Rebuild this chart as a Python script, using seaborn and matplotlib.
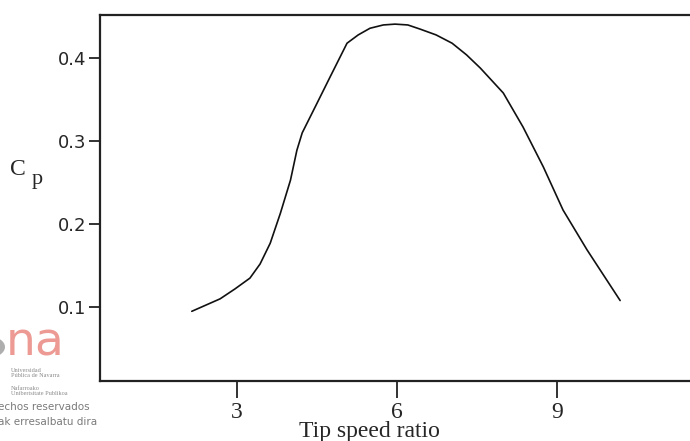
import matplotlib
matplotlib.use("Agg")
import matplotlib.pyplot as plt
from matplotlib.patches import Circle
import pandas as pd
import seaborn as sns

# Power coefficient curve
tsr = [2.15, 2.68, 2.96, 3.24, 3.43, 3.62, 3.81, 4.00, 4.12, 4.22, 4.50, 4.74,
       5.06, 5.27, 5.49, 5.74, 5.96, 6.20, 6.43, 6.73, 7.03, 7.30, 7.56, 7.99,
       8.36, 8.74, 9.11, 9.56, 10.18]
cp = [0.095, 0.110, 0.122, 0.135, 0.152, 0.177, 0.213, 0.253, 0.289, 0.310, 0.346, 0.377,
      0.418, 0.428, 0.436, 0.440, 0.441, 0.440, 0.435, 0.428, 0.418, 0.404, 0.388, 0.358,
      0.317, 0.269, 0.217, 0.169, 0.108]
x_ticks = [3, 6, 9]
y_ticks = [0.1, 0.2, 0.3, 0.4]

df = pd.DataFrame({"tsr": tsr, "cp": cp})

sns.set_style("white")
SERIF = ["Liberation Serif", "DejaVu Serif"]

fig = plt.figure(figsize=(6.9, 4.41), dpi=100)
ax = fig.add_axes([0.145, 0.136, 0.855, 0.830])

sns.lineplot(data=df, x="tsr", y="cp", color="#111111", linewidth=1.2, ax=ax)

ax.set_xlim(0.43, 11.49)
ax.set_ylim(0.011, 0.452)
ax.set_xticks(x_ticks)
ax.set_yticks(y_ticks)
ax.set_xticklabels([str(t) for t in x_ticks], family=SERIF, fontsize=17)
ax.set_yticklabels([f"{t:.1f}" for t in y_ticks], family="DejaVu Sans", fontsize=13)
ax.tick_params(axis="x", bottom=True, direction="out", length=12, width=1.3, pad=3,
               color="#222222")
ax.tick_params(axis="y", left=True, direction="out", length=8, width=1.3, pad=2,
               color="#222222")
ax.set_xlabel("")
ax.set_ylabel("")

for side in ["left", "top", "bottom"]:
    ax.spines[side].set_color("#222222")
    ax.spines[side].set_linewidth(1.6)
ax.spines["right"].set_visible(False)

# axis labels
fig.text(0.535, 1 - 437 / 441, "Tip speed ratio", family=SERIF, fontsize=17,
         ha="center", va="baseline")
fig.text(0.015, 0.615, "C", family=SERIF, fontsize=17, ha="left", va="center")
fig.text(0.046, 0.592, "p", family=SERIF, fontsize=16, ha="left", va="center")

# watermark bottom-left
fig.patches.append(Circle((-12 / 690, 1 - 347 / 441), 17 / 690, transform=fig.transFigure,
                          facecolor="#9a9a9a", edgecolor="none", alpha=0.8))
fig.text(6 / 690, 1 - 356 / 441, "na", family="DejaVu Sans", fontsize=34,
         color="#ec9a93", ha="left", va="baseline")
fig.text(11 / 690, 1 - 378 / 441, "Universidad\nPública de Navarra", family=SERIF,
         fontsize=4.5, color="#8a8a8a", ha="left", va="bottom", linespacing=1.1)
fig.text(11 / 690, 1 - 396 / 441, "Nafarroako\nUnibertsitate Publikoa", family=SERIF,
         fontsize=4.5, color="#8a8a8a", ha="left", va="bottom", linespacing=1.1)
fig.text(-2 / 690, 1 - 412 / 441, "echos reservados", family="DejaVu Sans",
         fontsize=7.5, color="#7a7a7a", ha="left", va="bottom")
fig.text(-2 / 690, 1 - 427 / 441, "ak erresalbatu dira", family="DejaVu Sans",
         fontsize=7.5, color="#7a7a7a", ha="left", va="bottom")

fig.savefig("out.png", dpi=100, facecolor="white")
